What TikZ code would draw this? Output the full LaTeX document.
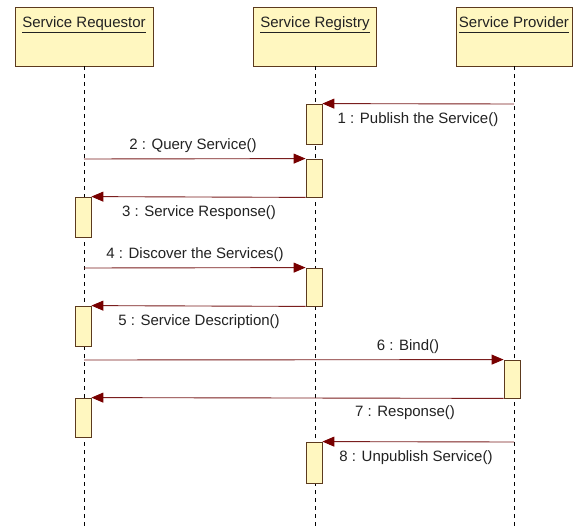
\documentclass[tikz,border=0pt]{standalone}
\usepackage{fontspec}
\setmainfont{Liberation Sans}
\usetikzlibrary{arrows.meta}
\definecolor{boxfill}{HTML}{FFF7C0}
\definecolor{boxline}{HTML}{5C3A1E}
\definecolor{msgline}{HTML}{7A1E1E}
\definecolor{msghead}{HTML}{780000}
\definecolor{txt}{HTML}{222222}
\newcommand{\hdrtext}[1]{\underline{#1\vphantom{y}}}
\begin{document}
\begin{tikzpicture}[x=1pt,y=-1pt,
  lbl/.style={font=\fontsize{15}{18}\selectfont, text=txt, inner sep=0pt},
  header/.style={draw=boxline, fill=boxfill, line width=0.9pt, minimum height=59pt, inner sep=0pt},
  act/.style={draw=boxline, fill=boxfill, line width=0.8pt, minimum width=16pt, inner sep=0pt},
  life/.style={draw=black, line width=0.8pt, dash pattern=on 4pt off 4pt},
  msg/.style={draw=msgline, line width=0.9pt, -{Triangle[length=12pt,width=10pt,color=msghead]}}]
\useasboundingbox (0,0) rectangle (574,527);
\fill[white] (0,0) rectangle (574,527);
% headers
\node[header, minimum width=138pt] (req) at (84,36.5) {};
\node[header, minimum width=123pt] (reg) at (315,36.5) {};
\node[header, minimum width=116pt] (prov) at (514,36.5) {};
\node[lbl, anchor=base] (reqt) at (84,28) {\hdrtext{Service Requestor}};
\node[lbl, anchor=base] (regt) at (315,28) {\hdrtext{Service Registry}};
\node[lbl, anchor=base] (provt) at (514,28) {\hdrtext{Service Provider}};
% lifeline ends
\coordinate (reqend) at (84,527);
\coordinate (regend) at (315,527);
\coordinate (provend) at (514,527);
\draw[life] (req.south) -- (reqend);
\draw[life] (reg.south) -- (regend);
\draw[life] (prov.south) -- (provend);
% activations
\node[act, minimum height=40pt] (a1) at (314,124) {};
\node[act, minimum height=38pt] (a2) at (314,178) {};
\node[act, minimum height=40pt] (r3) at (83,217) {};
\node[act, minimum height=38pt] (a4) at (314,287) {};
\node[act, minimum height=40pt] (r5) at (83,326) {};
\node[act, minimum height=38pt] (p6) at (512,379) {};
\node[act, minimum height=39pt] (r7) at (83,417.5) {};
\node[act, minimum height=41pt] (a8) at (314,462.5) {};
% message start points
\coordinate (s1) at (514,104);
\coordinate (s2) at (84,159);
\coordinate (s4) at (84,268);
\coordinate (s6) at (84,360);
\coordinate (s8) at (514,442);
% messages
\draw[msg] (s1) -- (a1.north east);
\draw[msg] (s2) -- (a2.north west);
\draw[msg] (a2.south west) -- (r3.north east);
\draw[msg] (s4) -- (a4.north west);
\draw[msg] (a4.south west) -- (r5.north east);
\draw[msg] (s6) -- (p6.north west);
\draw[msg] (p6.south west) -- (r7.north east);
\draw[msg] (s8) -- (a8.north east);
% labels
\node[lbl] (l1) at (418,120) {1 : Publish the Service()};
\node[lbl] (l2) at (193,146) {2 : Query Service()};
\node[lbl] (l3) at (199,213) {3 : Service Response()};
\node[lbl] (l4) at (195,255) {4 : Discover the Services()};
\node[lbl] (l5) at (199,322) {5 : Service Description()};
\node[lbl] (l6) at (408,347) {6 : Bind()};
\node[lbl] (l7) at (405,413) {7 : Response()};
\node[lbl] (l8) at (416,458) {8 : Unpublish Service()};
\end{tikzpicture}
\end{document}
